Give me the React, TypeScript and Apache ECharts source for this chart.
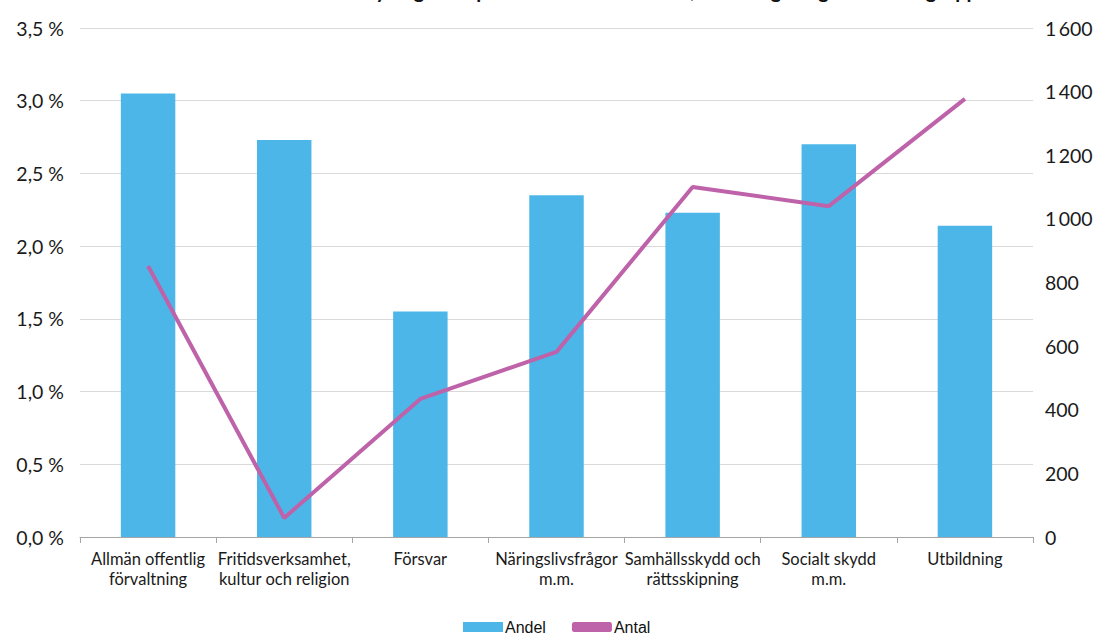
import React, { useEffect, useRef } from "react";
import * as echarts from "echarts";

const titleText = "Andel och antal anställda i myndigheter per verksamhetsområde, indelning enligt funktionsgrupp";
const categories = [
  "Allmän offentlig\nförvaltning",
  "Fritidsverksamhet,\nkultur och religion",
  "Försvar",
  "Näringslivsfrågor\nm.m.",
  "Samhällsskydd och\nrättsskipning",
  "Socialt skydd\nm.m.",
  "Utbildning",
];
const andel = [3.05, 2.73, 1.55, 2.35, 2.23, 2.7, 2.14];
const antal = [852, 60, 434, 582, 1100, 1040, 1377];
const leftTicks = { min: 0, max: 3.5, interval: 0.5 };
const rightTicks = { min: 0, max: 1600, interval: 200 };

const BAR = "#4DB6E8";
const LINE = "#BE62A9";
const FONT = "Lato, 'Open Sans', sans-serif";

export default function App() {
  const ref = useRef<HTMLDivElement>(null);
  useEffect(() => {
    if (!ref.current) return;
    const chart = echarts.init(ref.current, undefined, { renderer: "svg" });
    chart.setOption({
      animation: false,
      title: {
        text: titleText,
        left: "center",
        top: -25,
        textStyle: { fontFamily: FONT, fontWeight: "bold", fontSize: 20, color: "#111" },
      },
      grid: { left: 80, right: 67, top: 28, bottom: 98, containLabel: false },
      legend: {
        bottom: 0,
        left: 463,
        padding: 0,
        itemWidth: 40,
        itemHeight: 10,
        itemGap: 26,
        textStyle: { fontFamily: "'Liberation Sans', Arial, sans-serif", fontSize: 16, color: "#111", padding: [0, 0, 0, -3] },
        data: [
          { name: "Andel", icon: "rect" },
          { name: "Antal", icon: "roundRect" },
        ],
      },
      xAxis: {
        type: "category",
        data: categories,
        boundaryGap: true,
        axisLine: { lineStyle: { color: "#A6A6A6", width: 1 } },
        axisTick: { show: true, length: 6, lineStyle: { color: "#A6A6A6" } },
        axisLabel: {
          interval: 0,
          fontFamily: FONT,
          fontSize: 16.5,
          color: "#1a1a1a",
          lineHeight: 20,
          margin: 12,
        },
      },
      yAxis: [
        {
          type: "value",
          min: leftTicks.min,
          max: leftTicks.max,
          interval: leftTicks.interval,
          axisLine: { show: false },
          axisTick: { show: false },
          splitLine: { lineStyle: { color: "#D9D9D9", width: 1 } },
          axisLabel: {
            fontFamily: FONT,
            fontSize: 19.5,
            color: "#1a1a1a",
            margin: 16,
            formatter: (v: number) => v.toFixed(1).replace(".", ",") + " %",
          },
        },
        {
          type: "value",
          min: rightTicks.min,
          max: rightTicks.max,
          interval: rightTicks.interval,
          axisLine: { show: false },
          axisTick: { show: false },
          splitLine: { show: false },
          axisLabel: {
            fontFamily: FONT,
            fontSize: 19.5,
            color: "#1a1a1a",
            margin: 12,
            formatter: (v: number) =>
              v >= 1000 ? Math.floor(v / 1000) + "\u2009" + String(v % 1000).padStart(3, "0") : String(v),
          },
        },
      ],
      series: [
        {
          name: "Andel",
          type: "bar",
          data: andel,
          yAxisIndex: 0,
          barWidth: "40%",
          itemStyle: { color: BAR },
        },
        {
          name: "Antal",
          type: "line",
          data: antal,
          yAxisIndex: 1,
          symbol: "none",
          lineStyle: { color: LINE, width: 4 },
          itemStyle: { color: LINE },
        },
      ],
    });
    return () => chart.dispose();
  }, []);
  return <div ref={ref} style={{ width: 1100, height: 635, position: "absolute", left: 0, top: 0 }} />;
}
